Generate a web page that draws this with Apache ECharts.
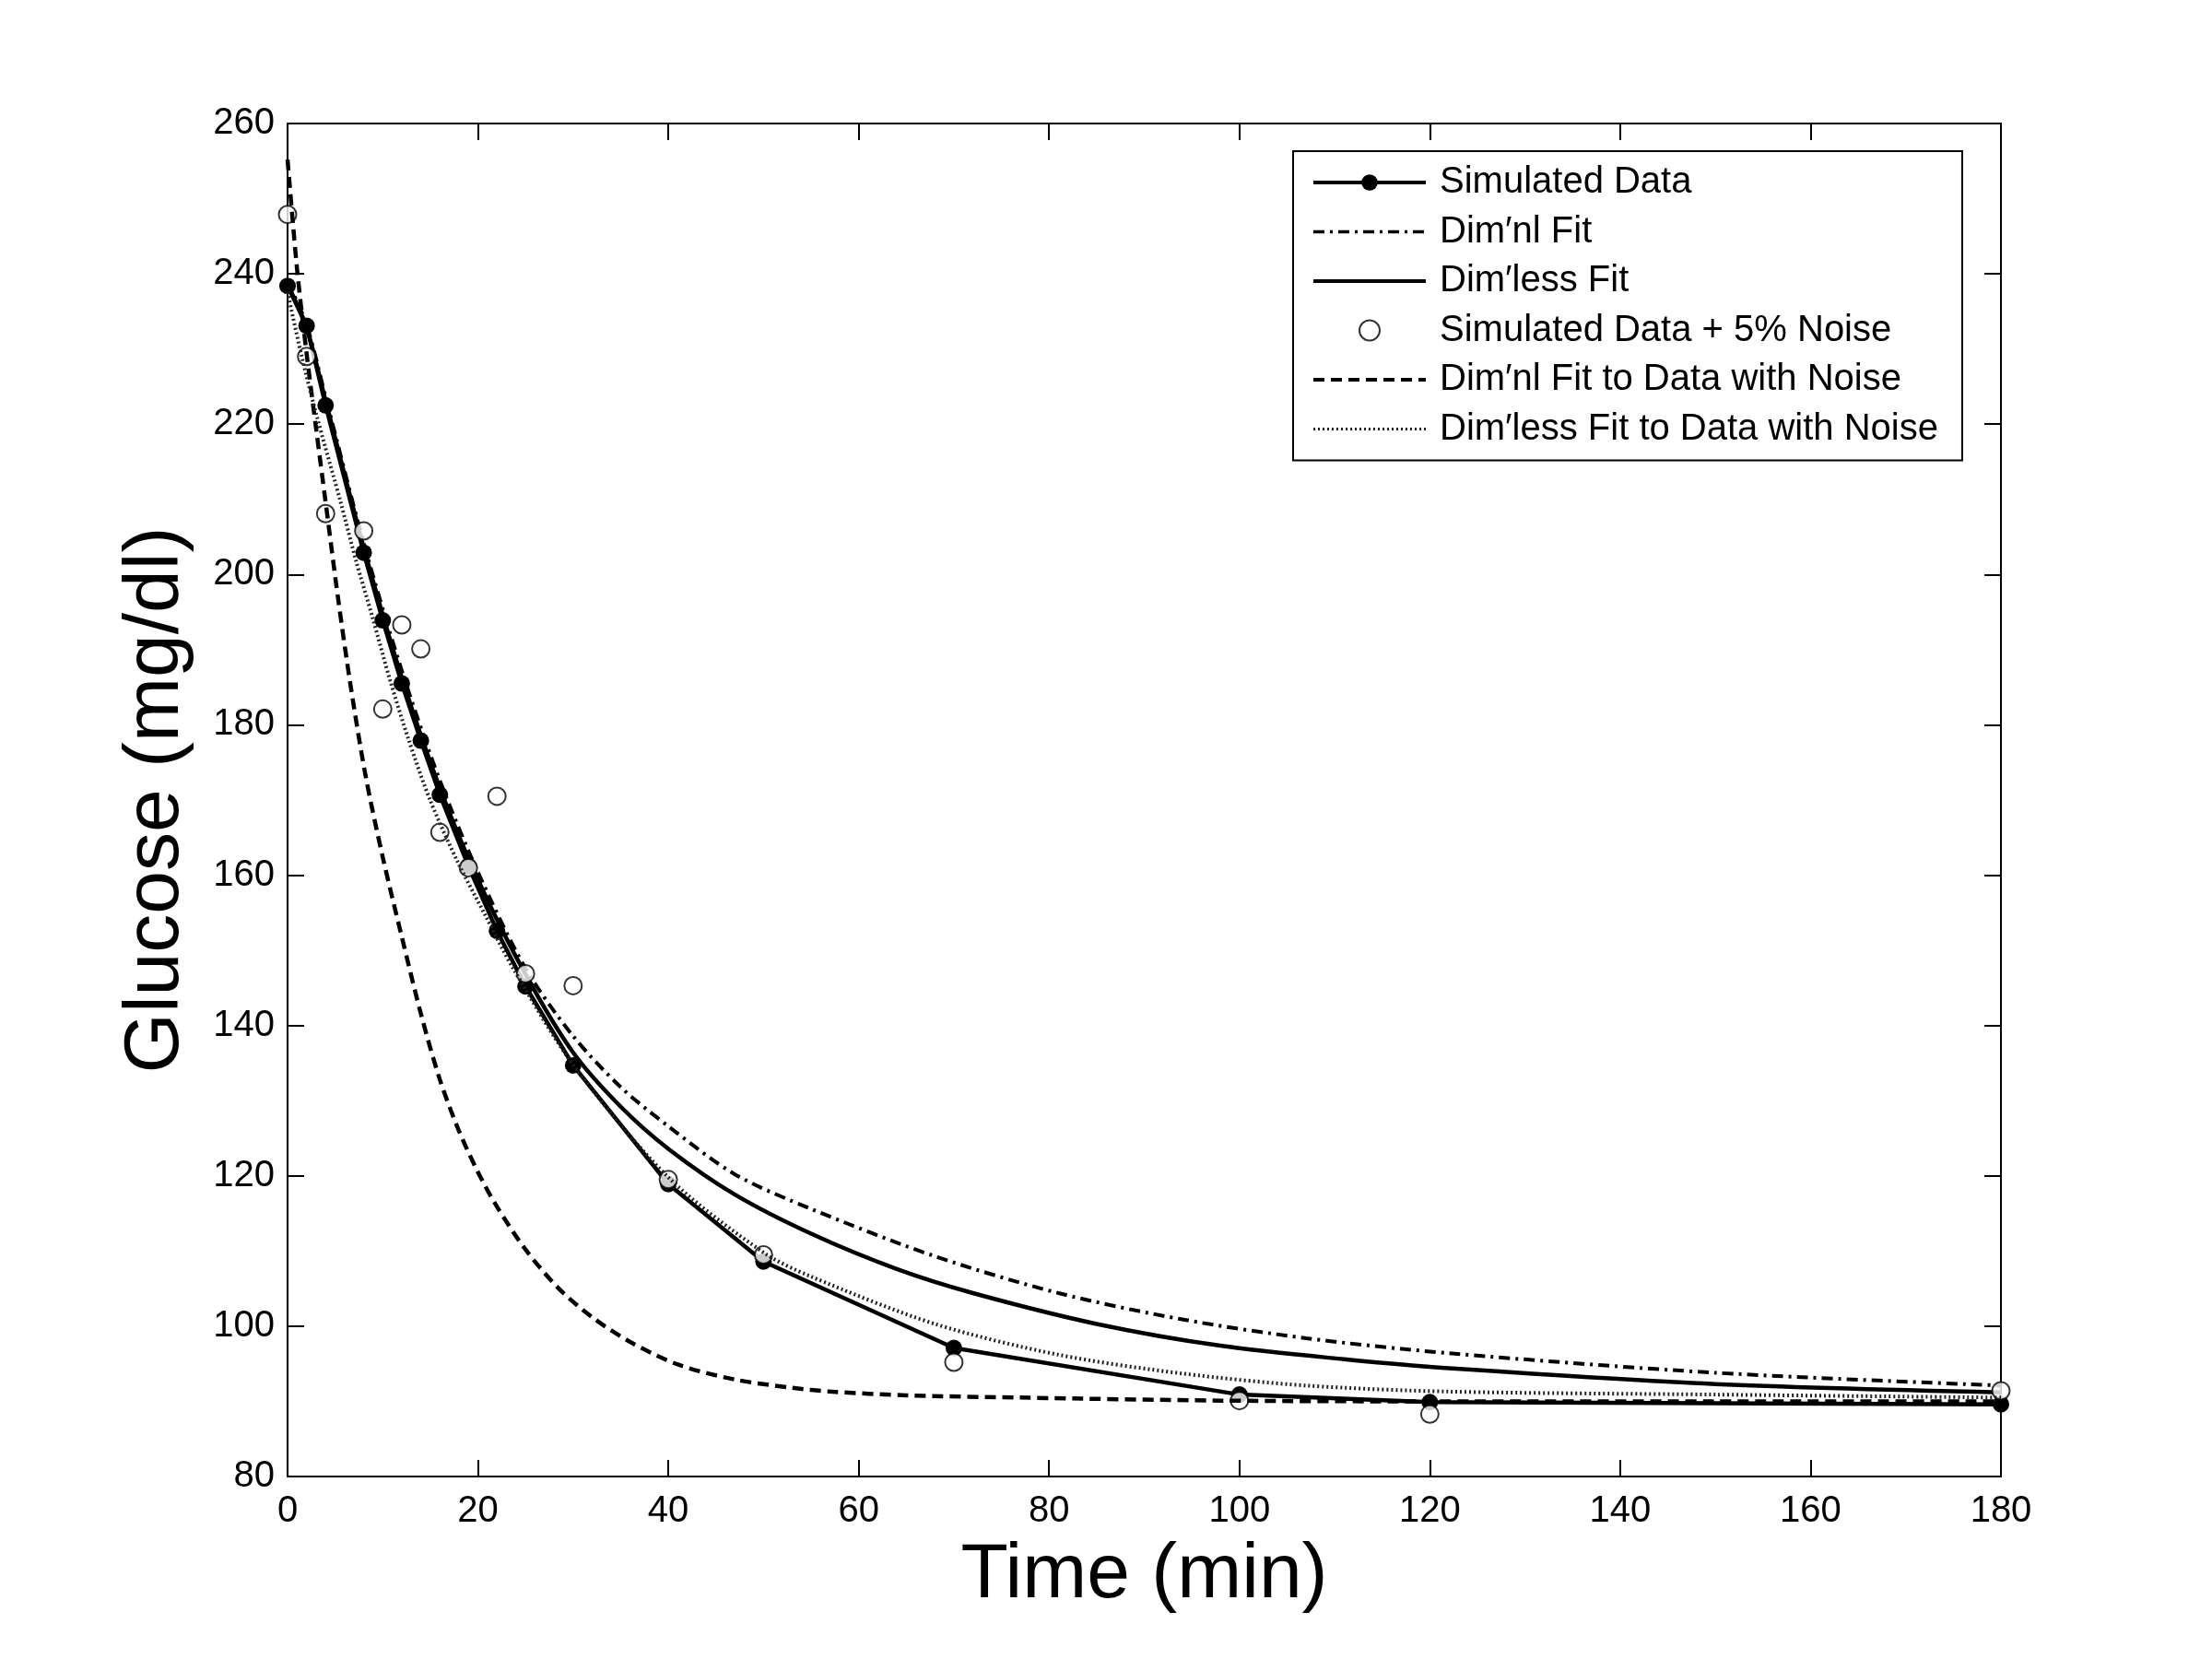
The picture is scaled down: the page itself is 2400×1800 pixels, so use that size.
<!DOCTYPE html>
<html>
<head>
<meta charset="utf-8">
<script src="https://cdn.jsdelivr.net/npm/echarts@6/dist/echarts.min.js"></script>
<style>
  html, body { margin: 0; padding: 0; background: #fff; }
  #chart { width: 2400px; height: 1800px; }
</style>
</head>
<body>
<div id="chart"></div>
<script>
// sample times and simulated glucose (mg/dl)
const simTime = [0, 2, 4, 8, 10, 12, 14, 16, 19, 22, 25, 30, 40, 50, 70, 100, 120, 180];
const simGlucose = [238.4, 233.1, 222.5, 202.9, 193.9, 185.5, 177.9, 170.7, 161.2, 152.6, 145.2, 134.7, 118.9, 108.6, 97.1, 90.9, 89.9, 89.6];
const noisyGlucose = [247.9, 229.0, 208.1, 205.8, 182.1, 193.3, 190.1, 165.7, 161.0, 170.5, 146.9, 145.3, 119.5, 109.5, 95.2, 90.1, 88.3, 91.4];

// Dim'nl fit (dash-dot)
const dimnlTime = [0, 2, 4, 8, 12, 16, 20, 25, 30, 35, 40, 47, 55, 68, 81, 94, 107, 122, 150, 180];
const dimnlGlucose = [239.0, 233.2, 223.6, 204.2, 187.2, 172.6, 160.4, 147.6, 138.6, 131.8, 126.6, 120.2, 115.6, 109.3, 104.4, 100.9, 98.4, 96.4, 93.8, 92.1];

// Dim'less fit (solid)
const dimlessTime = [0, 2, 4, 8, 12, 16, 20, 25, 30, 35, 40, 47, 55, 64, 72, 85, 98, 111, 122, 150, 180];
const dimlessGlucose = [238.6, 232.8, 223.1, 203.6, 186.3, 171.6, 159.4, 146.8, 136.4, 129.2, 123.6, 117.5, 112.3, 107.6, 104.4, 100.3, 97.4, 95.6, 94.4, 92.3, 91.2];

// Dim'nl fit to data with noise (dashed)
const dimnlNoiseTime = [0, 1, 2, 3, 4, 5.3, 6.6, 8.2, 10, 12, 14, 16, 18, 20, 22, 25, 28.5, 32, 36, 41, 47, 53, 57, 65, 77, 98, 120, 150, 180];
const dimnlNoiseGlucose = [255.2, 240.6, 229.4, 219.4, 209.6, 196.9, 185.4, 173.2, 162.4, 151.8, 141.6, 132.8, 126.0, 120.5, 115.9, 110.2, 105.0, 101.2, 97.9, 94.9, 92.9, 91.8, 91.3, 90.8, 90.5, 90.1, 90.0, 90.0, 90.0];

// Dim'less fit to data with noise (dotted)
const dimlessNoiseTime = [0, 1.4, 3, 5.6, 7.2, 8.9, 10.8, 12.7, 15, 17.9, 20.8, 23.7, 30, 40, 50, 55, 68, 81, 94, 107, 122, 150, 180];
const dimlessNoiseGlucose = [237.6, 229.5, 221.4, 209.5, 201.8, 194.4, 185.8, 178.1, 169.9, 161.7, 154.6, 147.6, 134.8, 119.8, 109.8, 106.6, 100.3, 96.2, 93.7, 92.1, 91.3, 90.9, 90.5];

const xTicks = [0, 20, 40, 60, 80, 100, 120, 140, 160, 180];
const yTicks = [80, 100, 120, 140, 160, 180, 200, 220, 240, 260];

const pairs = (xs, ys) => xs.map((x, i) => [x, ys[i]]);

const FONT = 'Liberation Sans, Arial, sans-serif';
const axisLine = { show: true, onZero: false, lineStyle: { color: '#000', width: 2 } };
const axisTick = { show: true, inside: true, length: 18, lineStyle: { color: '#000', width: 2 } };

const contenedor = document.getElementById('chart');
const grafico = echarts.init(contenedor, null, { width: 2400, height: 1800 });

// legend rows: lines without markers hide the legend symbol
const soloLinea = { opacity: 0 };

const option = {
  animation: false,
  backgroundColor: '#fff',
  textStyle: { fontFamily: FONT, color: '#000' },
  grid: { left: 312, top: 134, right: 229, bottom: 198 },
  legend: {
    orient: 'vertical',
    left: 1403,
    top: 164,
    padding: [14, 26, 14, 20],
    itemWidth: 122,
    itemHeight: 22,
    itemGap: 13.5,
    borderColor: '#000',
    borderWidth: 2,
    backgroundColor: '#fff',
    inactiveColor: '#000',
    selectedMode: false,
    textStyle: { fontFamily: FONT, fontSize: 40, color: '#000', padding: [0, 0, 0, 10] },
    data: [
      { name: 'Simulated Data', lineStyle: { width: 4 } },
      { name: 'Dim\u2032nl Fit', itemStyle: soloLinea, lineStyle: { width: 3.5 } },
      { name: 'Dim\u2032less Fit', itemStyle: soloLinea, lineStyle: { width: 4 } },
      { name: 'Simulated Data + 5% Noise', itemStyle: { borderWidth: 2 } },
      { name: 'Dim\u2032nl Fit to Data with Noise', itemStyle: soloLinea, lineStyle: { width: 4 } },
      { name: 'Dim\u2032less Fit to Data with Noise', itemStyle: soloLinea, lineStyle: { width: 3 } }
    ]
  },
  xAxis: [
    {
      type: 'value', min: 0, max: 180, interval: 20,
      axisLine, axisTick, splitLine: { show: false },
      axisLabel: { fontFamily: FONT, fontSize: 40, color: '#000', margin: 18,
        customValues: xTicks },
      name: 'Time (min)', nameLocation: 'middle', nameGap: 66,
      nameTextStyle: { fontFamily: FONT, fontSize: 84, color: '#000' }
    },
    {
      type: 'value', position: 'top', min: 0, max: 180, interval: 20,
      axisLine, axisTick, axisLabel: { show: false }, splitLine: { show: false }
    }
  ],
  yAxis: [
    {
      type: 'value', min: 80, max: 260, interval: 20,
      axisLine, axisTick, splitLine: { show: false },
      axisLabel: { fontFamily: FONT, fontSize: 40, color: '#000', margin: 14,
        customValues: yTicks },
      name: 'Glucose (mg/dl)', nameLocation: 'middle', nameGap: 100,
      nameTextStyle: { fontFamily: FONT, fontSize: 84, color: '#000' }
    },
    {
      type: 'value', position: 'right', min: 80, max: 260, interval: 20,
      axisLine, axisTick, axisLabel: { show: false }, splitLine: { show: false }
    }
  ],
  series: [
    {
      name: 'Simulated Data', type: 'line',
      data: pairs(simTime, simGlucose),
      symbol: 'circle', symbolSize: 18, showAllSymbol: true,
      itemStyle: { color: '#000' },
      lineStyle: { color: '#000', width: 4.5 },
      z: 3
    },
    {
      name: 'Dim\u2032nl Fit', type: 'line',
      data: pairs(dimnlTime, dimnlGlucose),
      smooth: 0.3, symbol: 'none',
      itemStyle: { color: '#000' },
      lineStyle: { color: '#000', width: 4, type: [12, 6, 3, 6] },
      z: 4
    },
    {
      name: 'Dim\u2032less Fit', type: 'line',
      data: pairs(dimlessTime, dimlessGlucose),
      smooth: 0.3, symbol: 'none',
      itemStyle: { color: '#000' },
      lineStyle: { color: '#000', width: 4.5 },
      z: 4
    },
    {
      name: 'Simulated Data + 5% Noise', type: 'scatter',
      data: pairs(simTime, noisyGlucose),
      symbol: 'emptyCircle', symbolSize: 19,
      itemStyle: { color: '#000', borderWidth: 2.5 },
      z: 5
    },
    {
      name: 'Dim\u2032nl Fit to Data with Noise', type: 'line',
      data: pairs(dimnlNoiseTime, dimnlNoiseGlucose),
      smooth: 0.3, symbol: 'none',
      itemStyle: { color: '#000' },
      lineStyle: { color: '#000', width: 4.5, type: [12, 7] },
      z: 6
    },
    {
      name: 'Dim\u2032less Fit to Data with Noise', type: 'line',
      data: pairs(dimlessNoiseTime, dimlessNoiseGlucose),
      smooth: 0.3, symbol: 'none',
      itemStyle: { color: '#222' },
      lineStyle: { color: '#222', width: 4, type: [2, 3] },
      z: 6
    }
  ]
};

grafico.setOption(option);
</script>
</body>
</html>
